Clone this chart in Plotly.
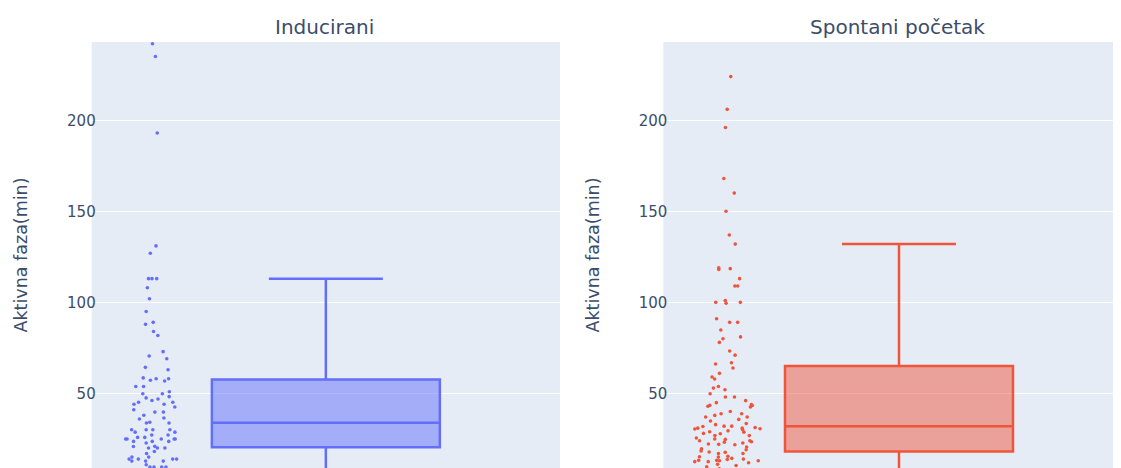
import plotly.graph_objects as go
from plotly.subplots import make_subplots

# ---- data (minutes of active phase) ----
panel_titles = ["Inducirani", "Spontani početak"]
y_axis_title = "Aktivna faza(min)"
y_tick_values = [50, 100, 150, 200]

inducirani_values = [
    3, 5, 6, 8, 9.5, 9.5, 9.5, 9.5, 10.8, 12.8, 12.8, 12.8, 13.9, 13.9, 13.9, 13.9,
    15, 15, 17, 18.1, 20, 20, 20,
    20.8, 20.9, 22.7, 23.6, 23.6, 23.6, 24.9, 24.9, 24.9, 24.9, 24.9, 25.8, 25.8,
    27.1, 27.1, 28.7, 28.7, 30, 30, 30, 30, 33.7, 33.7,
    34.1, 35.9, 36.5, 38, 39.7, 39.7, 41, 42.5, 44, 44, 45.1, 45.1, 46.1, 46.9,
    47.5, 48.2, 49.8, 49.8, 50.9, 53.8, 53.8, 56.8, 57.2,
    58, 58, 58.5, 63, 64.3, 69, 70.5, 72.9, 81.8, 84, 87.9, 89, 95, 102, 108,
    113, 113, 113, 127, 131, 193, 235, 242,
]

spontani_values = [
    2, 3, 4, 5, 6, 7, 7.5, 8, 8.5, 9.7, 10.4, 11, 11.9, 12.5, 12.5, 13, 13, 13.2,
    13.2, 13.7, 13.9, 14.3, 15, 15.2, 15.4, 16.9, 17, 17.6, 17.8,
    18.4, 19, 19.6, 20.5, 21.8, 22, 22.2, 22.7, 23.2, 23.4, 24, 24, 24.7, 24.9,
    25.5, 26.8, 26.8, 27.8, 28, 28.7, 28.9, 29.4, 30, 30.4, 30.6, 30.9, 30.9,
    31.2, 31.8,
    32, 32, 32.8, 33.4, 34.8, 35.7, 37, 37, 37.9, 38.8, 38.8, 40, 42.5, 42.9,
    43.3, 43.4, 43.8, 44.9, 46, 48, 48, 49.8, 52, 52.9, 53.8, 57.9, 59, 61, 63.9,
    66.1, 66.8, 71, 73.3, 78, 80, 81, 84.8, 89, 89, 91, 99.5, 100, 100, 101,
    109, 109, 113, 118, 118.5, 119, 132, 137, 150, 160, 168, 196, 206, 224,
]

colors = ["#636EFA", "#EF553B"]
series = [inducirani_values, spontani_values]

FONT = "Verdana, DejaVu Sans, sans-serif"
TXT = "#3c4d6b"
W, H = 1121, 468
OFF = 8            # page body margin of the html wrapper
TOP = 42 - OFF     # plot-area top in figure coordinates
BOT = OFF          # plot-area bottom = window bottom

fig = make_subplots(rows=1, cols=2)

for i, (vals, col, name) in enumerate(zip(series, colors, panel_titles)):
    fig.add_trace(
        go.Box(
            y=vals,
            x0=0,
            name=name,
            boxpoints="all",
            jitter=0.3,
            pointpos=-1.5,
            width=0.7,
            marker=dict(color=col, size=3.6),
            line=dict(color=col, width=2.5),
            showlegend=False,
        ),
        row=1, col=i + 1,
    )

# plot-area geometry (figure pixels)
left_dom = [(91.7 - OFF) / W, (560 - OFF) / W]
right_dom = [(663.3 - OFF) / W, 1.0]

fig.update_layout(
    width=W, height=H,
    margin=dict(l=0, r=0, t=TOP, b=BOT, pad=0),
    template="plotly",
    font=dict(family=FONT, color=TXT),
    showlegend=False,
    plot_bgcolor="#E5ECF6",
    paper_bgcolor="white",
)

fig.update_xaxes(showticklabels=False, showgrid=False, zeroline=False, type="linear")
fig.update_layout(
    xaxis=dict(domain=left_dom, range=[-0.719, 0.719]),
    xaxis2=dict(domain=right_dom, range=[-0.7237, 0.7062]),
)

fig.update_yaxes(
    range=[9.0, 243.0],
    tickvals=y_tick_values,
    tickfont=dict(size=15, family=FONT, color=TXT),
    gridcolor="white", gridwidth=1.25,
    zeroline=False,
    automargin=False,
    ticklabelstandoff=-5,
    title=dict(text=y_axis_title, font=dict(size=17.5, family=FONT, color=TXT), standoff=34),
)

# panel titles
plot_h = H - TOP - BOT
for i, t in enumerate(panel_titles):
    fig.add_annotation(
        text=t, xref="x" if i == 0 else "x2", x=-0.005,
        yref="paper", y=1 + (TOP - (27 - OFF)) / plot_h, yanchor="middle",
        showarrow=False, font=dict(size=20, family=FONT, color=TXT),
    )

fig.write_html("out.html", config={"displayModeBar": False})
